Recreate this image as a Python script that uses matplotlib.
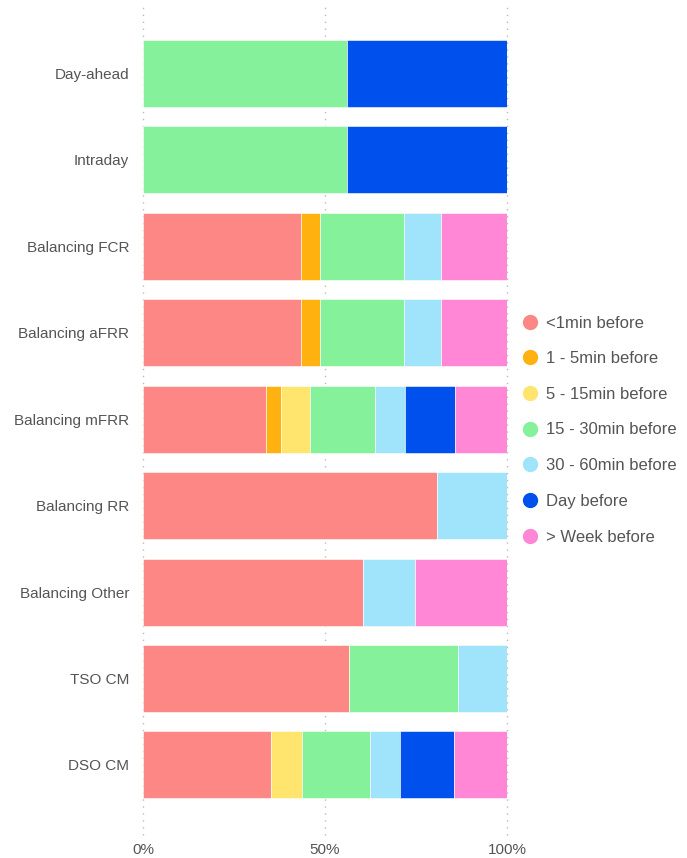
import numpy as np
import matplotlib.pyplot as plt
from matplotlib.lines import Line2D

plt.rcParams['font.family'] = ['Liberation Sans', 'DejaVu Sans']

categories = ['Day-ahead', 'Intraday', 'Balancing FCR', 'Balancing aFRR',
              'Balancing mFRR', 'Balancing RR', 'Balancing Other', 'TSO CM', 'DSO CM']
series = ['<1min before', '1 - 5min before', '5 - 15min before', '15 - 30min before',
          '30 - 60min before', 'Day before', '> Week before']

lt1min = [0, 0, 43.5, 43.5, 33.8, 80.7, 60.5, 56.5, 35.3]
m1_5 = [0, 0, 5.0, 5.0, 4.0, 0, 0, 0, 0]
m5_15 = [0, 0, 0, 0, 8.2, 0, 0, 0, 8.4]
m15_30 = [56.0, 56.0, 23.1, 23.1, 17.7, 0, 0, 30.0, 18.6]
m30_60 = [0, 0, 10.4, 10.4, 8.2, 19.3, 14.3, 13.5, 8.4]
day_before = [44.0, 44.0, 0, 0, 13.9, 0, 0, 0, 14.7]
week_before = [0, 0, 18.0, 18.0, 14.2, 0, 25.2, 0, 14.6]

colors = ['#FD8784', '#FFB20F', '#FFE56E', '#85F29B', '#9FE4FB', '#0050EE', '#FF87D5']

values = [lt1min, m1_5, m5_15, m15_30, m30_60, day_before, week_before]

fig = plt.figure(figsize=(6.87, 8.58), dpi=100)
ax = fig.add_axes([143/687, 1 - 835/858, 364/687, 830/858])

y = np.arange(len(categories))
left = np.zeros(len(categories))
for vals, col, name in zip(values, colors, series):
    vals = np.array(vals, dtype=float)
    ax.barh(y, vals, left=left, height=0.775, color=col, edgecolor='white',
            linewidth=0.4, label=name)
    left += vals

ax.set_xlim(0, 100)
ax.set_ylim(8.81, -0.79)
ax.set_yticks(y)
ax.set_yticklabels(categories, fontsize=11, color='#555555')
ax.set_xticks([0, 50, 100])
ax.set_xticklabels(['0%', '50%', '100%'], fontsize=11, color='#555555')
ax.tick_params(length=0, pad=10)
ax.tick_params(axis='x', pad=6)
for s in ax.spines.values():
    s.set_visible(False)
ax.grid(axis='x', linestyle=(0, (1, 4)), color='#BBBBBB', linewidth=1)
for gl in ax.get_xgridlines():
    gl.set_clip_on(False)
ax.set_axisbelow(True)

handles = [Line2D([0], [0], marker='o', linestyle='', markersize=10,
                  markerfacecolor=c, markeredgecolor=c) for c in colors]
fig.legend(handles, series, loc='center left', bbox_to_anchor=(505/687, 1 - 430/858),
           frameon=False, fontsize=12, labelcolor='#555555', handletextpad=0.35,
           labelspacing=1.24, handlelength=1.2)

fig.savefig('out.png', dpi=100)
